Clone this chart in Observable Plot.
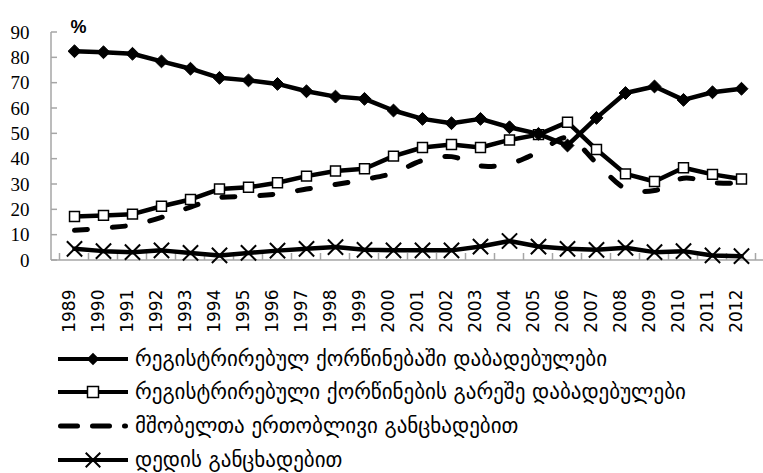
<!DOCTYPE html>
<html>
<head>
<meta charset="utf-8">
<script src="https://cdn.jsdelivr.net/npm/d3@7"></script>
<script src="https://cdn.jsdelivr.net/npm/@observablehq/plot@0.6"></script>
<style>
  body { margin: 0; background: #fff; }
  #wrap { position: relative; width: 763px; height: 473px; overflow: hidden; }
  .row { position: absolute; left: 58px; height: 30px; display: flex; align-items: center; white-space: nowrap;
         font-family: "DejaVu Sans", sans-serif; font-size: 21px; color: #000; }
  .row svg { flex: none; margin-right: 7px; }
</style>
</head>
<body>
<div id="wrap"></div>
<script>
const years = ["1989","1990","1991","1992","1993","1994","1995","1996","1997","1998","1999","2000",
               "2001","2002","2003","2004","2005","2006","2007","2008","2009","2010","2011","2012"];
const married = [82.6,82.2,81.6,78.6,75.7,72.1,71.1,69.7,66.8,64.7,63.8,59.2,55.9,54.2,55.9,52.6,50.0,45.4,56.3,66.1,68.7,63.4,66.4,67.8];
const outside = [17.4,17.8,18.3,21.4,24.1,28.2,28.9,30.7,33.3,35.3,36.2,41.2,44.6,45.8,44.6,47.6,49.7,54.6,43.8,34.2,31.2,36.6,34.0,32.2];
const joint   = [11.9,12.8,14.0,17.0,21.1,24.8,25.3,26.3,28.2,30.0,32.0,34.5,39.5,41.0,37.3,38.2,42.8,48.5,38.5,28.5,27.6,32.5,30.7,30.5];
const mother  = [4.6,3.7,3.3,4.0,3.0,2.0,3.0,3.9,4.6,5.3,4.2,4.0,4.0,4.0,5.5,7.7,5.5,4.6,4.2,5.0,3.3,3.7,2.0,1.7];
const yTicks = [0,10,20,30,40,50,60,70,80,90];
const seriesNames = [
  "რეგისტრირებულ ქორწინებაში დაბადებულები",
  "რეგისტრირებული ქორწინების გარეშე დაბადებულები",
  "მშობელთა ერთობლივი განცხადებით",
  "დედის განცხადებით"
];

const toRows = arr => years.map((y, i) => ({year: y, value: arr[i]}));
const dMarried = toRows(married), dOutside = toRows(outside), dJoint = toRows(joint), dMother = toRows(mother);

function axesMark(index, scales, values, dims) {
  const g = d3.create("svg:g").attr("stroke", "#a6a6a6").attr("stroke-width", 1.5).attr("fill", "none");
  const x0 = dims.marginLeft, x1 = dims.width - dims.marginRight;
  const yb = scales.y(0), yt = scales.y(90);
  g.append("line").attr("x1", x0).attr("x2", x0).attr("y1", yt).attr("y2", yb);
  g.append("line").attr("x1", x0).attr("x2", x1).attr("y1", yb).attr("y2", yb);
  yTicks.forEach(t => g.append("line").attr("x1", x0).attr("x2", x0 + 6).attr("y1", scales.y(t)).attr("y2", scales.y(t)));
  const xs = years.map(y => scales.x(y));
  const step = xs[1] - xs[0];
  const bounds = xs.map(x => x - step / 2).concat([xs[xs.length - 1] + step / 2]);
  bounds.forEach(b => g.append("line").attr("x1", b).attr("x2", b).attr("y1", yb).attr("y2", yb - 7));
  return g.node();
}

const SERIF = "'Liberation Serif', 'DejaVu Serif', serif";
const SANS = "'DejaVu Sans', sans-serif";

const chart = Plot.plot({
  width: 763, height: 340,
  marginLeft: 51, marginRight: 0, marginTop: 32, marginBottom: 80,
  style: {background: "#fff", color: "#000"},
  x: {type: "point", domain: years, padding: 0.5, axis: null},
  y: {domain: [0, 90], axis: null},
  marks: [
    axesMark,
    Plot.text(yTicks, {y: d => d, text: d => String(d), frameAnchor: "left", textAnchor: "end", dx: -22,
                       fontSize: 19, fontFamily: SERIF, fill: "#000", ariaLabel: "ytick"}),
    Plot.text(years, {x: d => d, text: d => d, frameAnchor: "bottom", rotate: -90, textAnchor: "end", dy: 29,
                      fontSize: 17, fontFamily: SANS, fill: "#000", ariaLabel: "xtick"}),
    Plot.text(["%"], {frameAnchor: "top-left", dx: 19, dy: -12, text: d => d, fontSize: 18, fontWeight: "bold", fontFamily: "'Liberation Sans', sans-serif"}),
    Plot.line(dJoint, {x: "year", y: "value", stroke: "#000", strokeWidth: 5, strokeDasharray: "13,25", strokeLinecap: "round", curve: "catmull-rom"}),
    Plot.line(dMother, {x: "year", y: "value", stroke: "#000", strokeWidth: 4.5}),
    Plot.dot(dMother, {x: "year", y: "value", symbol: "times", r: 7, stroke: "#000", strokeWidth: 2}),
    Plot.line(dOutside, {x: "year", y: "value", stroke: "#000", strokeWidth: 4.5}),
    Plot.dot(dOutside, {x: "year", y: "value", symbol: "square", r: 5.6, fill: "#fff", stroke: "#000", strokeWidth: 1.5}),
    Plot.line(dMarried, {x: "year", y: "value", stroke: "#000", strokeWidth: 4.5}),
    Plot.dot(dMarried, {x: "year", y: "value", symbol: "diamond2", r: 5.8, fill: "#000", stroke: "#000", strokeWidth: 1})
  ]
});

d3.select(chart).selectAll('g[aria-label="ytick"] text').style("font-family", SERIF).style("font-size", "19px");
d3.select(chart).selectAll('g[aria-label="xtick"] text').style("font-family", SANS).style("font-size", "17px");

const wrap = document.getElementById("wrap");
wrap.appendChild(chart);

// Legend
const rowCenters = [359, 392, 426, 460];
const swatches = [
  s => { s.append("line").attr("x1",0).attr("x2",70).attr("y1",10).attr("y2",10).attr("stroke","#000").attr("stroke-width",4);
         s.append("path").attr("d", d3.symbol(d3.symbolDiamond2, 100)()).attr("transform","translate(35,10)").attr("fill","#000"); },
  s => { s.append("line").attr("x1",0).attr("x2",70).attr("y1",10).attr("y2",10).attr("stroke","#000").attr("stroke-width",4);
         s.append("rect").attr("x",29.5).attr("y",4.5).attr("width",11).attr("height",11).attr("fill","#fff").attr("stroke","#000").attr("stroke-width",1.5); },
  s => { s.append("line").attr("x1",2.5).attr("x2",67.5).attr("y1",10).attr("y2",10).attr("stroke","#000").attr("stroke-width",5)
           .attr("stroke-dasharray","17,15").attr("stroke-linecap","round"); },
  s => { s.append("line").attr("x1",0).attr("x2",70).attr("y1",10).attr("y2",10).attr("stroke","#000").attr("stroke-width",4);
         s.append("path").attr("d", d3.symbol(d3.symbolTimes, 140)()).attr("transform","translate(35,10)").attr("stroke","#000").attr("stroke-width",2).attr("fill","none"); }
];
seriesNames.forEach((name, i) => {
  const row = document.createElement("div");
  row.className = "row";
  row.style.top = (rowCenters[i] - 15) + "px";
  const sv = d3.create("svg").attr("width", 70).attr("height", 20);
  swatches[i](sv);
  row.appendChild(sv.node());
  const span = document.createElement("span");
  span.textContent = name;
  row.appendChild(span);
  wrap.appendChild(row);
});
</script>
</body>
</html>
